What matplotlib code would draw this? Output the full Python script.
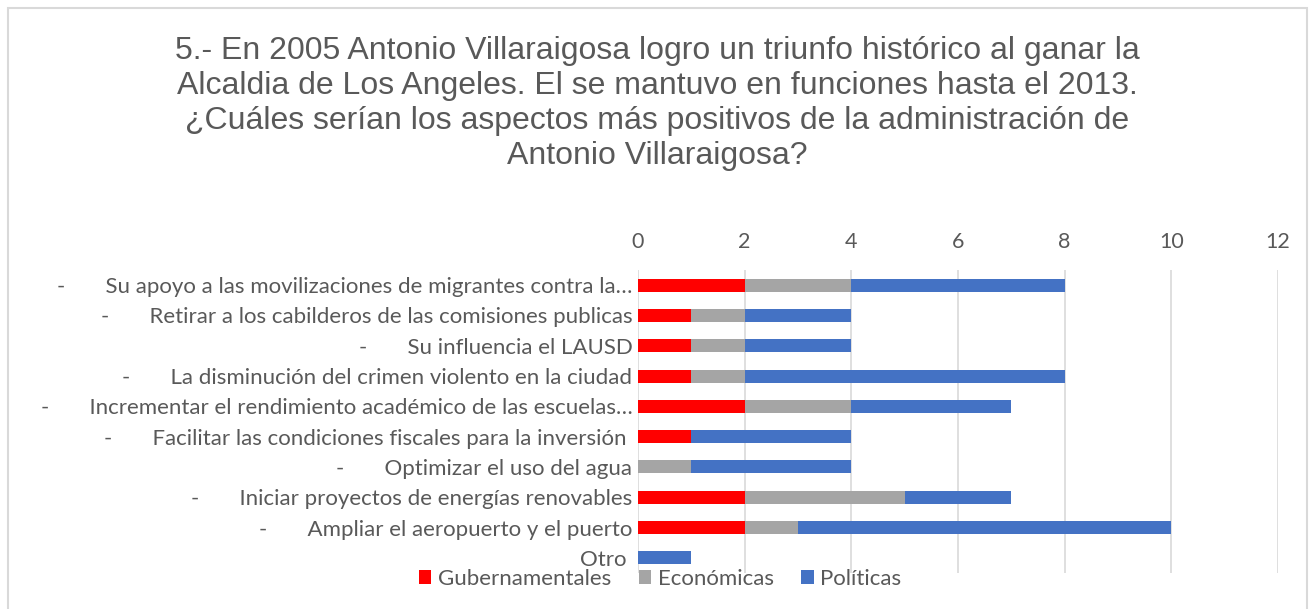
import matplotlib
matplotlib.use("Agg")
import matplotlib.pyplot as plt
from matplotlib.patches import Rectangle
import numpy as np

categories = [
    "Su apoyo a las movilizaciones de migrantes contra la…",
    "Retirar a los cabilderos de las comisiones publicas",
    "Su influencia el LAUSD",
    "La disminución del crimen violento en la ciudad",
    "Incrementar el rendimiento académico de las escuelas…",
    "Facilitar las condiciones fiscales para la inversión ",
    "Optimizar el uso del agua",
    "Iniciar proyectos de energías renovables",
    "Ampliar el aeropuerto y el puerto",
    "Otro ",
]
dashed = [True] * 9 + [False]
gubernamentales = [2, 1, 1, 1, 2, 1, 0, 2, 2, 0]
economicas = [2, 1, 1, 1, 2, 0, 1, 3, 1, 0]
politicas = [4, 2, 2, 6, 3, 3, 3, 2, 7, 1]
series_names = ["Gubernamentales", "Económicas", "Políticas"]
colors = ["#FF0000", "#A5A5A5", "#4472C4"]
xticks = [0, 2, 4, 6, 8, 10, 12]
title = ("5.- En 2005 Antonio Villaraigosa logro un triunfo histórico al ganar la\n"
         "Alcaldia de Los Angeles. El se mantuvo en funciones hasta el 2013.\n"
         "¿Cuáles serían los aspectos más positivos de la administración de\n"
         "Antonio Villaraigosa?")

W, H = 1311, 609
fig = plt.figure(figsize=(W / 100, H / 100), dpi=100)
fig.patch.set_facecolor("white")

# outer chart border
fig.add_artist(Rectangle((8 / W, -0.05), (1307 - 8) / W, 1.05 - 8 / H,
                         transform=fig.transFigure, fill=False,
                         edgecolor="#D9D9D9", linewidth=1.5))

ax = fig.add_axes([638 / W, 1 - 573 / H, (1278 - 638) / W, (573 - 270) / H])
y = np.arange(len(categories))
g = np.array(gubernamentales)
e = np.array(economicas)
p = np.array(politicas)
bh = 0.43
ax.barh(y, g, height=bh, color=colors[0], label=series_names[0], zorder=3)
ax.barh(y, e, left=g, height=bh, color=colors[1], label=series_names[1], zorder=3)
ax.barh(y, p, left=g + e, height=bh, color=colors[2], label=series_names[2], zorder=3)

ax.set_xlim(0, 12)
ax.set_ylim(len(categories) - 0.5, -0.5)
ax.set_xticks(xticks)
ax.xaxis.tick_top()
ax.tick_params(axis="x", length=0, pad=13, labelsize=15.5, labelcolor="#595959")
ax.tick_params(axis="y", length=0, pad=4)
for lab in ax.get_xticklabels():
    lab.set_family("Lato")
ax.set_yticks(y)
labels = [("-" + " " * 7 + c) if d else c for c, d in zip(categories, dashed)]
ax.set_yticklabels(labels, family="Lato", fontsize=16, color="#595959")
ax.grid(axis="x", color="#D9D9D9", linewidth=1.2, zorder=0)
for s in ax.spines.values():
    s.set_visible(False)

fig.text(657 / W, 1 - 36 / H, title, ha="center", va="top", fontsize=23,
         family="Liberation Sans", color="#595959", linespacing=1.22)

leg = fig.legend(loc="center", bbox_to_anchor=(660 / W, 1 - 579 / H), ncol=3,
                 frameon=False, handlelength=0.55, handleheight=0.55,
                 handletextpad=0.3, columnspacing=1.25,
                 prop={"family": "Lato", "size": 16})
for t in leg.get_texts():
    t.set_color("#595959")

fig.savefig("out.png", dpi=100)
